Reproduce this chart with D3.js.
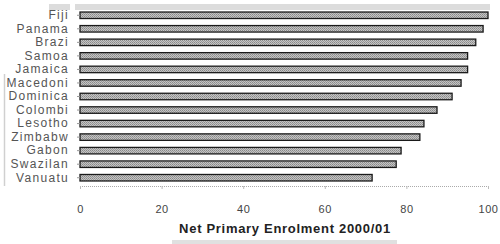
<!DOCTYPE html>
<html>
<head>
<meta charset="utf-8">
<script src="https://cdn.jsdelivr.net/npm/d3@7"></script>
<style>
  body { margin: 0; background: #fff; }
  svg { display: block; }
  text { font-family: "Liberation Sans", Arial, sans-serif; }
</style>
</head>
<body>
<script>
  // labels as shown (truncated in the source picture)
  var countries = ['Fiji', 'Panama', 'Brazi', 'Samoa', 'Jamaica', 'Macedoni', 'Dominica',
                   'Colombi', 'Lesotho', 'Zimbabw', 'Gabon', 'Swazilan', 'Vanuatu'];
  var enrolment = [100, 98.8, 97, 95, 95, 93.4, 91.2, 87.5, 84.3, 83.3, 78.7, 77.5, 71.6];
  var tickValues = [0, 20, 40, 60, 80, 100];
  var axisTitle = 'Net Primary Enrolment 2000/01';

  var width = 500, height = 244;

  var svg = d3.select('body').append('svg')
      .attr('width', width).attr('height', height);

  // grainy grey fill like the scanned bars
  var pat = svg.append('defs').append('pattern')
      .attr('id', 'grain').attr('width', 2).attr('height', 2)
      .attr('patternUnits', 'userSpaceOnUse');
  pat.append('rect').attr('width', 2).attr('height', 2).attr('fill', '#c4c4c4');
  pat.append('rect').attr('width', 1).attr('height', 1).attr('fill', '#8a8a8a');
  pat.append('rect').attr('x', 1).attr('y', 1).attr('width', 1).attr('height', 1).attr('fill', '#9a9a9a');

  var x = d3.scaleLinear().domain([0, 100]).range([80, 488]);
  var y = d3.scaleBand().domain(countries).range([8.5, 184.5]).paddingInner(0.52).paddingOuter(0.26);

  // bars
  svg.selectAll('rect.bar').data(countries).enter().append('rect')
      .attr('class', 'bar')
      .attr('x', x(0))
      .attr('y', function(d) { return y(d); })
      .attr('width', function(d, i) { return x(enrolment[i]) - x(0); })
      .attr('height', y.bandwidth())
      .attr('fill', 'url(#grain)')
      .attr('stroke', '#1a1a1a')
      .attr('stroke-width', 1.3);

  // category axis
  var yAxis = svg.append('g').attr('transform', 'translate(80,0)')
      .call(d3.axisLeft(y).tickSize(3).tickPadding(8));
  yAxis.select('.domain').remove();
  yAxis.selectAll('.tick line').attr('stroke', '#999');
  yAxis.selectAll('.tick text')
      .attr('font-size', 12).attr('fill', '#555')
      .attr('letter-spacing', '1.3px')
      .attr('x', -11);

  // value axis
  var xAxis = svg.append('g').attr('transform', 'translate(0,186)')
      .call(d3.axisBottom(x).tickValues(tickValues).tickSize(3).tickPadding(16));
  xAxis.select('.domain').attr('stroke', '#aaa').attr('stroke-dasharray', '1,1');
  xAxis.selectAll('.tick line').attr('stroke', '#bbb');
  xAxis.selectAll('.tick text').attr('font-size', 11).attr('fill', '#444')
      .attr('letter-spacing', '0.6px');

  // grey strips near the top and under the title (scan artefacts)
  svg.append('rect').attr('x', 49).attr('y', 4).attr('width', 21).attr('height', 6).attr('fill', '#dcdcdc');
  svg.append('rect').attr('x', 75).attr('y', 4).attr('width', 415).attr('height', 6).attr('fill', '#dcdcdc');
  svg.append('rect').attr('x', 172).attr('y', 240).attr('width', 225).attr('height', 4).attr('fill', '#e0e0e0');
  svg.append('line').attr('x1', 4.5).attr('x2', 4.5).attr('y1', 74).attr('y2', 186)
      .attr('stroke', '#d0d0d0').attr('stroke-width', 1.5);

  svg.append('text')
      .attr('x', 285).attr('y', 233)
      .attr('text-anchor', 'middle')
      .attr('font-size', 13).attr('font-weight', 'bold').attr('fill', '#222')
      .attr('letter-spacing', '0.7px')
      .text(axisTitle);
</script>
</body>
</html>
